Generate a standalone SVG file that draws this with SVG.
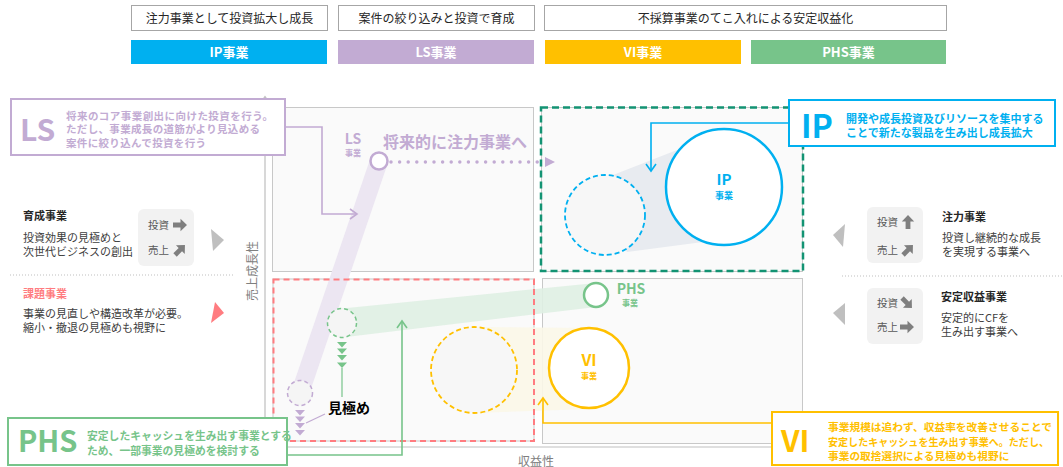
<svg xmlns="http://www.w3.org/2000/svg" width="1063" height="467" viewBox="0 0 1063 467">
<defs>
<style>
text{font-family:"Noto Sans CJK JP","Noto Sans",sans-serif;}
.b{font-weight:bold}
.hd{font-size:12px;fill:#262626;text-anchor:middle}
.bar{font-size:13px;fill:#fff;font-weight:bold;text-anchor:middle}
.body{font-size:11px;fill:#404040}
.ttl{font-size:11px;fill:#262626;font-weight:bold}
.sm{font-size:10.5px;fill:#595959}
.quad{fill:#FAFAFA;stroke:#C8C8C8;stroke-width:1}
.ls{fill:#C2ABD3}
.ip{fill:#00B0F0}
.vi{fill:#FFC000}
.phs{fill:#77C48A}
.conn{fill:none;stroke-width:1.6;stroke-linejoin:miter}
</style>
<path id="barr" d="M-7,-2.4 H0.5 V-6.2 L7,0 L0.5,6.2 V2.4 H-7 Z" fill="#7F7F7F"/>
</defs>
<rect width="1063" height="467" fill="#fff"/>

<g id="header">
<rect x="131.5" y="5.5" width="196" height="25" fill="#fff" stroke="#A6A6A6"/>
<text class="hd" x="229.5" y="22.5">注力事業として投資拡大し成長</text>
<rect x="338.5" y="5.5" width="196" height="25" fill="#fff" stroke="#A6A6A6"/>
<text class="hd" x="436.5" y="22.5">案件の絞り込みと投資で育成</text>
<rect x="544.5" y="5.5" width="402" height="25" fill="#fff" stroke="#A6A6A6"/>
<text class="hd" x="745.5" y="22.5">不採算事業のてこ入れによる安定収益化</text>
<rect x="131" y="40" width="196" height="24" fill="#00B0F0"/>
<text class="bar" x="229" y="57">IP事業</text>
<rect x="338" y="40" width="196" height="24" fill="#C2ABD3"/>
<text class="bar" x="436" y="57">LS事業</text>
<rect x="545" y="40" width="196" height="24" fill="#FFC000"/>
<text class="bar" x="643" y="57">VI事業</text>
<rect x="751" y="40" width="195" height="24" fill="#77C48A"/>
<text class="bar" x="848.5" y="57">PHS事業</text>
</g>

<g id="axes" stroke="#BFBFBF" stroke-width="1.2" fill="none">
<path d="M265,97 V447 H803"/>
<path d="M262.5,100 L265,96.5 L267.5,100"/>
</g>
<text x="0" y="0" transform="translate(256.5,271) rotate(-90)" font-size="12" fill="#7F7F7F" text-anchor="middle">売上成長性</text>
<text x="536" y="466" font-size="12" fill="#7F7F7F" text-anchor="middle">収益性</text>

<g id="quadrants">
<rect class="quad" x="272.5" y="107.5" width="261" height="164"/>
<rect class="quad" x="541.5" y="107.5" width="261" height="164"/>
<rect class="quad" x="273" y="279" width="261" height="162"/>
<rect class="quad" x="542.5" y="278.5" width="260" height="165"/>
</g>

<g id="bands">
<polygon points="613,175 677,150 724,187 703,242 627,252 605,215" fill="#E8EBF0"/>
<polygon points="342,308.5 596,283 596,307 342,337.5" fill="#DFEFE3" opacity="0.9"/>
<polygon points="474,327 589,328 589,409 474,413" fill="#FBF7E8" opacity="0.9"/>
<line x1="379" y1="161" x2="300" y2="393" stroke="#ECE6F2" stroke-width="18"/>
</g>

<g id="frames" fill="none">
<rect x="541" y="107.5" width="262" height="163.5" stroke="#139373" stroke-width="2.5" stroke-dasharray="7 4"/>
<rect x="273.5" y="279.5" width="260.5" height="161.5" stroke="#FF7C80" stroke-width="2" stroke-dasharray="6 4"/>
</g>

<g id="connectors" class="conn">
<polyline points="285,127 322,127 322,214 357,214" stroke="#C2ABD3"/>
<polyline points="350,209 357,214 350,219" stroke="#C2ABD3"/>
<line x1="391" y1="162" x2="540" y2="162" stroke="#C2ABD3" stroke-width="3.5" stroke-linecap="round" stroke-dasharray="0 8.6"/>
<polygon points="545,157 555,162 545,167" fill="#C2ABD3" stroke="none"/>
<polyline points="789,123 651,123 651,171" stroke="#00B0F0"/>
<polyline points="646,164 651,171 656,164" stroke="#00B0F0"/>
<polyline points="287,455 402,455 402,321" stroke="#77C48A"/>
<polyline points="397,328 402,321 407,328" stroke="#77C48A"/>
<polyline points="772,423 543,423 543,398" stroke="#FFC000"/>
<polyline points="538,405 543,398 548,405" stroke="#FFC000"/>
<line x1="342" y1="368" x2="342" y2="397" stroke="#77C48A" stroke-width="1.2"/>
<line x1="306" y1="423" x2="325" y2="414" stroke="#C2ABD3" stroke-width="1.2"/>
</g>

<g id="node-ls">
<circle cx="379" cy="161" r="8.5" fill="#fff" stroke="#C2ABD3" stroke-width="2.5"/>
<text class="b ls" x="353" y="144" font-size="14" text-anchor="middle">LS</text>
<text class="b ls" x="353" y="156" font-size="8" text-anchor="middle">事業</text>
<text class="b ls" x="383" y="148" font-size="16">将来的に注力事業へ</text>
</g>

<g id="node-ls-old">
<circle cx="300" cy="393" r="12.5" fill="#F5F5F5" stroke="#C2ABD3" stroke-width="1.5" stroke-dasharray="4 3"/>
<g fill="#C2ABD3">
<polygon points="295,410 305,410 300,415.5"/>
<polygon points="295,416.5 305,416.5 300,422"/>
<polygon points="295,423 305,423 300,428.5"/>
<polygon points="295,430 305,430 300,435.5"/>
</g>
</g>

<g id="node-phs-old">
<circle cx="342" cy="323" r="14.5" fill="#F5F5F5" stroke="#77C48A" stroke-width="1.5" stroke-dasharray="4 3"/>
<g fill="#77C48A">
<polygon points="337,342 347,342 342,347.5"/>
<polygon points="337,348.5 347,348.5 342,354"/>
<polygon points="337,355 347,355 342,360.5"/>
<polygon points="337,362.5 347,362.5 342,368"/>
</g>
</g>

<g id="label-mikiwame">
<text class="b" x="328" y="413" font-size="14" fill="#000">見極め</text>
</g>

<g id="node-phs">
<circle cx="596" cy="295" r="12" fill="#fff" stroke="#77C48A" stroke-width="2.5"/>
<text class="b phs" x="631" y="294" font-size="14" text-anchor="middle">PHS</text>
<text class="b phs" x="630" y="306" font-size="8" text-anchor="middle">事業</text>
</g>

<g id="node-vi-old">
<circle cx="474" cy="370" r="43" fill="#F7F7F7" stroke="#FFC000" stroke-width="1.8" stroke-dasharray="5 3"/>
</g>
<g id="node-vi">
<circle cx="589" cy="368" r="40" fill="#fff" stroke="#FFC000" stroke-width="2.5"/>
<text class="b vi" x="589" y="366" font-size="16" text-anchor="middle">VI</text>
<text class="b vi" x="589" y="379" font-size="8" text-anchor="middle">事業</text>
</g>

<g id="node-ip-old">
<circle cx="605" cy="215" r="40" fill="#F7F7F7" stroke="#00B0F0" stroke-width="1.8" stroke-dasharray="5 3"/>
</g>
<g id="node-ip">
<circle cx="724" cy="187" r="58" fill="#fff" stroke="#00B0F0" stroke-width="2.5"/>
<text class="b ip" x="724" y="185" font-size="15" text-anchor="middle">IP</text>
<text class="b ip" x="724" y="199" font-size="9" text-anchor="middle">事業</text>
</g>

<g id="callout-ls">
<rect x="11" y="99" width="274" height="56" fill="#fff" stroke="#C2ABD3" stroke-width="2"/>
<text class="b ls" x="20" y="141" font-size="30">LS</text>
<text class="b ls" x="66" y="119.5" font-size="10.5" textLength="207" lengthAdjust="spacing">将来のコア事業創出に向けた投資を行う。</text>
<text class="b ls" x="66" y="133" font-size="10.5" textLength="194" lengthAdjust="spacing">ただし、事業成長の道筋がより見込める</text>
<text class="b ls" x="66" y="146.5" font-size="10.5" textLength="140" lengthAdjust="spacing">案件に絞り込んで投資を行う</text>
</g>

<g id="callout-ip">
<rect x="789" y="100" width="266" height="46" fill="#fff" stroke="#00B0F0" stroke-width="2"/>
<text class="b ip" x="801" y="138" font-size="32">IP</text>
<text class="b ip" x="846" y="123" font-size="11">開発や成長投資及びリソースを集中する</text>
<text class="b ip" x="846" y="137" font-size="11">ことで新たな製品を生み出し成長拡大</text>
</g>

<g id="callout-vi">
<rect x="772" y="412" width="286" height="53" fill="#fff" stroke="#FFC000" stroke-width="2"/>
<text class="b vi" x="781" y="452" font-size="30">VI</text>
<text class="b vi" x="828" y="431" font-size="10.7" textLength="224" lengthAdjust="spacingAndGlyphs">事業規模は追わず、収益率を改善させることで</text>
<text class="b vi" x="828" y="445.5" font-size="10.7" textLength="221" lengthAdjust="spacingAndGlyphs">安定したキャッシュを生み出す事業へ。ただし、</text>
<text class="b vi" x="828" y="460" font-size="10.7">事業の取捨選択による見極めも視野に</text>
</g>

<g id="callout-phs">
<rect x="8" y="418" width="279" height="47" fill="#fff" stroke="#77C48A" stroke-width="2"/>
<text class="b phs" x="18" y="452" font-size="29">PHS</text>
<text class="b phs" x="87" y="440" font-size="10.8">安定したキャッシュを生み出す事業とする</text>
<text class="b phs" x="87" y="455" font-size="10.8">ため、一部事業の見極めを検討する</text>
</g>

<g id="side-ikusei">
<text class="ttl" x="23" y="220">育成事業</text>
<text class="body" x="23" y="242">投資効果の見極めと</text>
<text class="body" x="23" y="256">次世代ビジネスの創出</text>
<rect x="138" y="209" width="56" height="57" rx="6" fill="#F2F2F2"/>
<text class="sm" x="148" y="229">投資</text>
<text class="sm" x="148" y="254">売上</text>
<use href="#barr" transform="translate(180,225)"/>
<use href="#barr" transform="translate(180,250) rotate(-45)"/>
<polygon points="211,229 224,240 213,251" fill="#BFBFBF"/>
</g>
<line x1="10" y1="275" x2="233" y2="275" stroke="#BFBFBF" stroke-width="1" stroke-dasharray="1 2"/>
<g id="side-kadai">
<text class="ttl" x="23" y="298" style="fill:#FF7C80">課題事業</text>
<text class="body" x="23" y="318">事業の見直しや構造改革が必要。</text>
<text class="body" x="23" y="332">縮小・撤退の見極めも視野に</text>
<polygon points="215,302 224,313 211,323" fill="#FF7C80"/>
</g>

<g id="side-chuuryoku">
<rect x="867" y="207" width="56" height="56" rx="6" fill="#F2F2F2"/>
<text class="sm" x="877" y="226">投資</text>
<text class="sm" x="877" y="254">売上</text>
<use href="#barr" transform="translate(908,222) rotate(-90)"/>
<use href="#barr" transform="translate(908,250) rotate(-45)"/>
<polygon points="845,224 833,235 843,247" fill="#BFBFBF"/>
<text class="ttl" x="942" y="221">注力事業</text>
<text class="body" x="942" y="242">投資し継続的な成長</text>
<text class="body" x="942" y="256">を実現する事業へ</text>
</g>
<line x1="842" y1="276" x2="1063" y2="276" stroke="#BFBFBF" stroke-width="1" stroke-dasharray="1 2"/>
<g id="side-antei">
<rect x="867" y="288" width="56" height="56" rx="6" fill="#F2F2F2"/>
<text class="sm" x="877" y="307">投資</text>
<text class="sm" x="877" y="331">売上</text>
<use href="#barr" transform="translate(907,303) rotate(45)"/>
<use href="#barr" transform="translate(907,327)"/>
<polygon points="845,303 833,313 845,325" fill="#BFBFBF"/>
<text class="ttl" x="941" y="301">安定収益事業</text>
<text class="body" x="941" y="322">安定的にCFを</text>
<text class="body" x="941" y="336">生み出す事業へ</text>
</g>
</svg>
